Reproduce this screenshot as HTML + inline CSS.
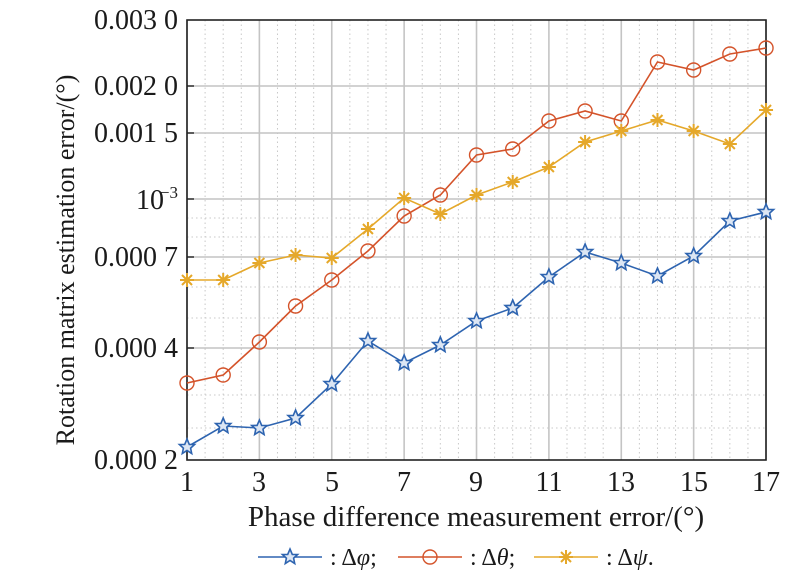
<!DOCTYPE html>
<html><head><meta charset="utf-8"><style>
body{margin:0;background:#fff;}
svg text{font-family:"Liberation Serif",serif;fill:#1a1a1a;}
</style></head><body>
<svg width="800" height="580" viewBox="0 0 800 580" xmlns="http://www.w3.org/2000/svg">
<defs>
<g id="st"><polygon points="0,-8 2.3,-2.6 7.6,-2.5 3.6,1.2 4.7,6.5 0,3.5 -4.7,6.5 -3.6,1.2 -7.6,-2.5 -2.3,-2.6" fill="#dce6f4" stroke="#2e64b0" stroke-width="1.6"/></g>
<g id="ci"><circle r="7" fill="none" stroke="#d4532a" stroke-width="1.4"/></g>
<g id="as" stroke="#e5a82a" stroke-width="2"><line x1="-7" y1="0" x2="7" y2="0"/><line x1="0" y1="-7" x2="0" y2="7"/><line x1="-5" y1="-5" x2="5" y2="5"/><line x1="-5" y1="5" x2="5" y2="-5"/></g>
</defs>
<g id="grid"></g>
<script>
(function(){
var g=document.getElementById('grid'),ns='http://www.w3.org/2000/svg';
function L(x1,y1,x2,y2,c,w,d){var l=document.createElementNS(ns,'line');l.setAttribute('x1',x1);l.setAttribute('y1',y1);l.setAttribute('x2',x2);l.setAttribute('y2',y2);l.setAttribute('stroke',c);l.setAttribute('stroke-width',w);if(d)l.setAttribute('stroke-dasharray',d);g.appendChild(l);}
var X0=187,dx=36.19;
for(var v=1;v<=17;v+=0.5){var x=X0+(v-1)*dx;var maj=(v%2==1);if(maj)L(x,20,x,460,'#c4c4c4',1.6);else L(x,20,x,460,'#c8c8c8',1,'1.5,3');}
[218,237,287,318,395,428].forEach(function(y){L(187,y,766,y,'#c8c8c8',1,'1.5,3');});
[86,133,199,257,348].forEach(function(y){L(187,y,766,y,'#c4c4c4',1.6);L(187,y,194,y,'#222',1.4);});
})();
</script>
<rect x="187" y="20" width="579" height="440" fill="none" stroke="#222" stroke-width="1.6"/>
<g font-size="28" text-anchor="end">
<text x="178" y="29">0.003 0</text>
<text x="178" y="95">0.002 0</text>
<text x="178" y="142">0.001 5</text>
<text x="164" y="209">10</text><text x="178" y="198" font-size="17">−3</text>
<text x="178" y="266">0.000 7</text>
<text x="178" y="357">0.000 4</text>
<text x="178" y="469">0.000 2</text>
</g>
<g font-size="28" text-anchor="middle">
<text x="187" y="491">1</text><text x="259" y="491">3</text><text x="332" y="491">5</text><text x="404" y="491">7</text><text x="476" y="491">9</text><text x="549" y="491">11</text><text x="621" y="491">13</text><text x="694" y="491">15</text><text x="766" y="491">17</text>
<text x="476" y="526" font-size="29">Phase difference measurement error/(°)</text>
<text font-size="26" transform="translate(74,260) rotate(-90)">Rotation matrix estimation error/(°)</text>
</g>
<g id="series"></g>
<script>
(function(){
var g=document.getElementById('series'),ns='http://www.w3.org/2000/svg';
var S=[
{c:'#2e64b0',m:'#st',y:[447,426,428,418,384,341,363,345,321,308,277,252,263,276,256,221,212]},
{c:'#d4532a',m:'#ci',y:[383,375,342,306,280,251,216,195,155,149,121,111,121,62,70,54,48]},
{c:'#e5a82a',m:'#as',y:[280,280,263,255,258,229,198,214,195,182,167,142,131,120,131,144,110]}];
S.forEach(function(s){var p='';s.y.forEach(function(y,i){p+=(187+i*36.19)+','+y+' ';});
var pl=document.createElementNS(ns,'polyline');pl.setAttribute('points',p);pl.setAttribute('fill','none');pl.setAttribute('stroke',s.c);pl.setAttribute('stroke-width','1.6');g.appendChild(pl);});
S.forEach(function(s){s.y.forEach(function(y,i){var u=document.createElementNS(ns,'use');u.setAttribute('href',s.m);u.setAttribute('x',187+i*36.19);u.setAttribute('y',y);g.appendChild(u);});});
})();
</script>
<g font-size="24">
<line x1="258" y1="557" x2="322" y2="557" stroke="#2e64b0" stroke-width="1.6"/><use href="#st" x="290" y="557"/>
<text x="330" y="565">: Δ<tspan font-style="italic">φ</tspan>;</text>
<line x1="398" y1="557" x2="462" y2="557" stroke="#d4532a" stroke-width="1.6"/><use href="#ci" x="430" y="557"/>
<text x="470" y="565">: Δ<tspan font-style="italic">θ</tspan>;</text>
<line x1="534" y1="557" x2="598" y2="557" stroke="#e5a82a" stroke-width="1.6"/><use href="#as" x="566" y="557"/>
<text x="606" y="565">: Δ<tspan font-style="italic">ψ</tspan>.</text>
</g>
</svg>
</body></html>
